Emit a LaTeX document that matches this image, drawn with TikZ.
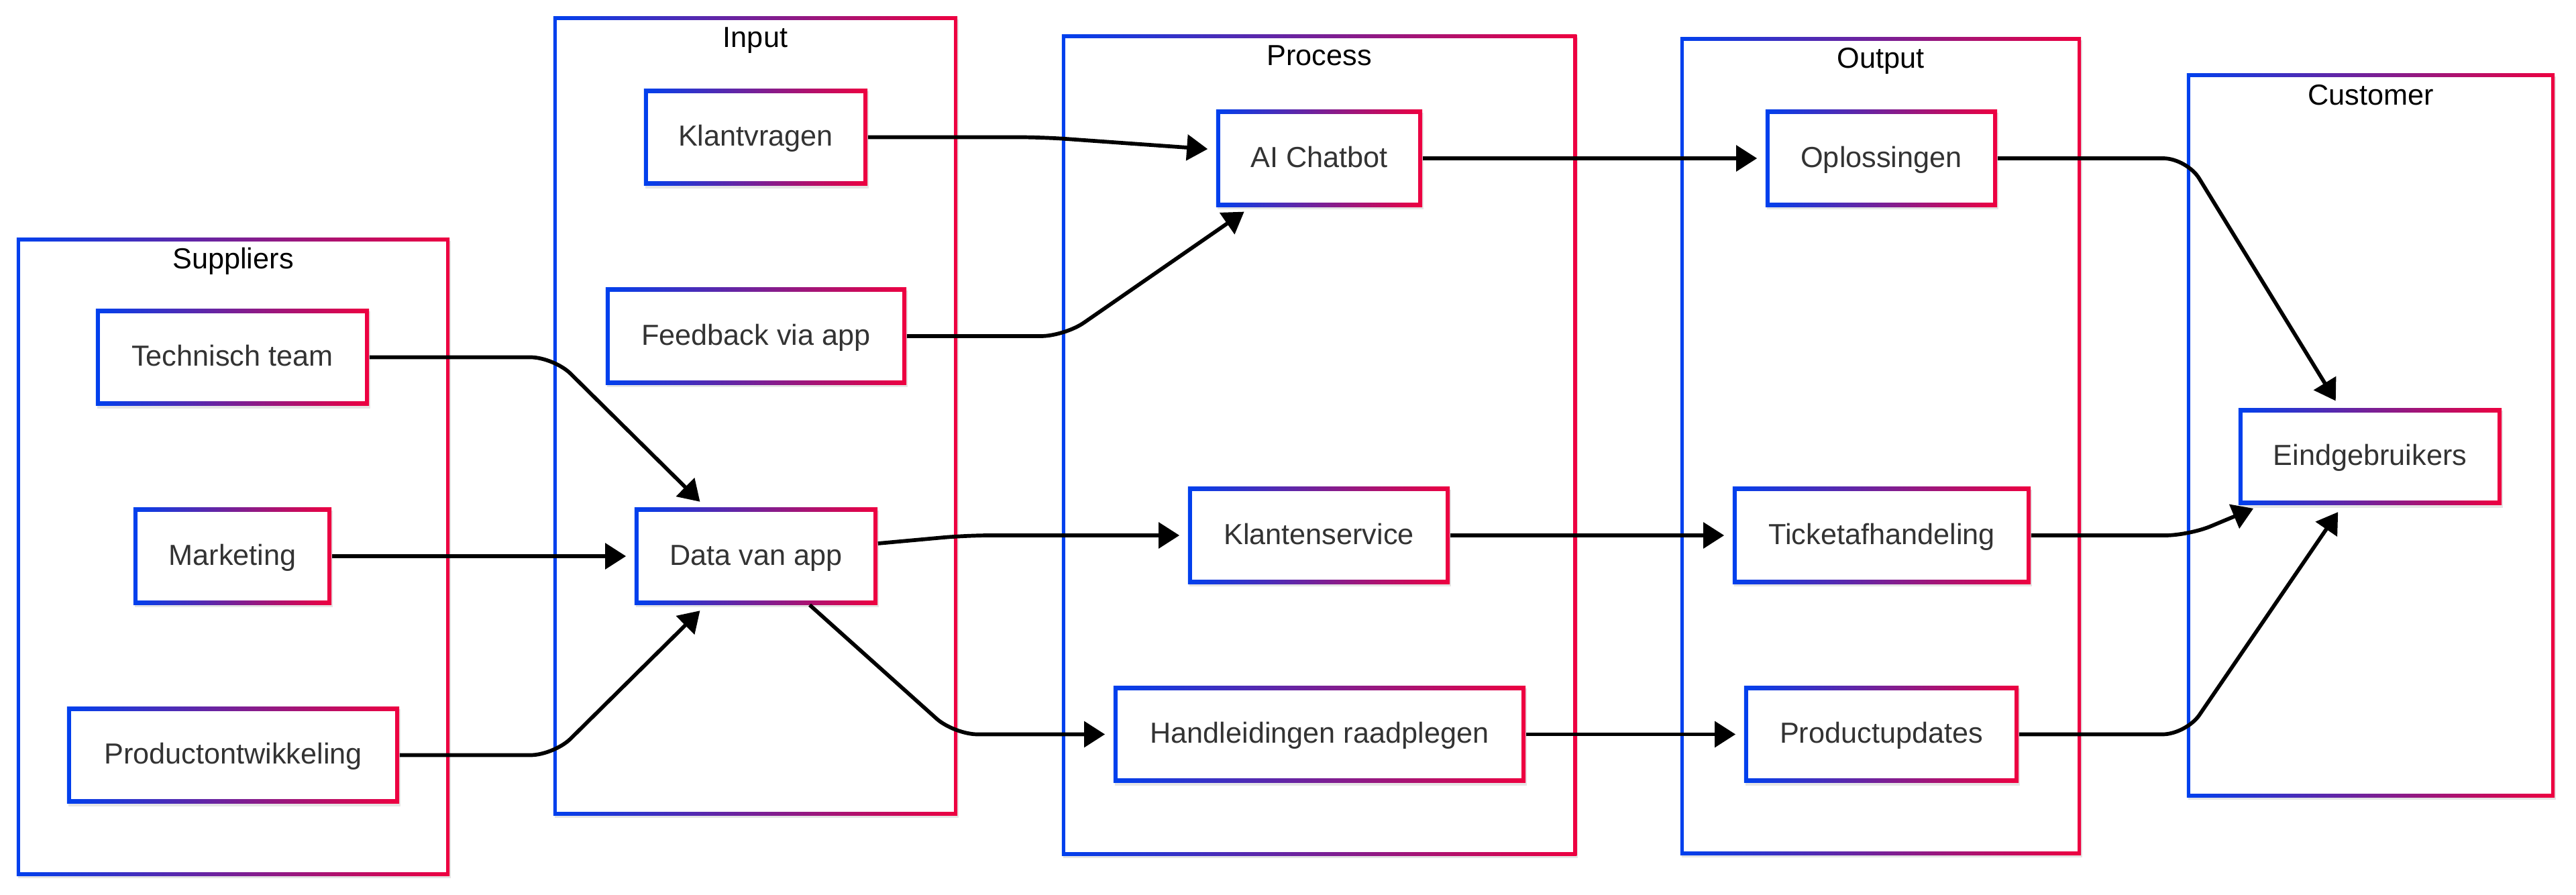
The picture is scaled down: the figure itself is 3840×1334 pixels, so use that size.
\documentclass[tikz,border=0pt]{standalone}
\usepackage{fontspec}
\setmainfont{Liberation Sans}
\usetikzlibrary{arrows.meta,calc,shadows}
\definecolor{gb}{RGB}{0,64,238}
\definecolor{gr}{RGB}{238,0,64}
\definecolor{tx}{RGB}{51,51,51}
\tikzset{
  gradbox/.style={rectangle, inner sep=0pt, fill=white,
    drop shadow={shadow xshift=0.02cm, shadow yshift=-0.04cm, opacity=0.10, fill=black},
    path picture={
      \shade[left color=gb, right color=gr] (path picture bounding box.south west) rectangle (path picture bounding box.north east);
      \fill[white] ([xshift=#1,yshift=#1]path picture bounding box.south west) rectangle ([xshift=-#1,yshift=-#1]path picture bounding box.north east);
    }},
  proc/.style={gradbox=0.065cm, text=tx, font=\fontsize{12.3}{14}\selectfont,
    text height=0.30cm, text depth=0.04cm, minimum height=1.44cm},
  group/.style={gradbox=0.055cm},
  gtitle/.style={anchor=base, text=black, font=\fontsize{12.3}{14}\selectfont, inner sep=0pt},
  flow/.style={line width=0.057cm, -{Triangle[length=0.31cm,width=0.38cm]},
    shorten >=0.12cm, rounded corners=0.35cm},
}
\begin{document}
\begin{tikzpicture}[x=0.01cm, y=-0.01cm]
\useasboundingbox[fill=white] (0,0) rectangle (3840,1334);
% groups
\node[group, minimum width=6.45cm, minimum height=9.50cm] (sup) at (347.5,830) {};
\node[group, minimum width=6.02cm, minimum height=11.90cm] (inp) at (1126,620) {};
\node[group, minimum width=7.67cm, minimum height=12.23cm] (pro) at (1966.5,663.5) {};
\node[group, minimum width=5.97cm, minimum height=12.18cm] (out) at (2803.5,665) {};
\node[group, minimum width=5.48cm, minimum height=10.78cm] (cus) at (3534,649) {};
\node[gtitle] (supt) at (347.5,401) {Suppliers};
\node[gtitle] (inpt) at (1126,71) {Input};
\node[gtitle] (prot) at (1966.5,98) {Process};
\node[gtitle] (outt) at (2803.5,102) {Output};
\node[gtitle] (cust) at (3534,157) {Customer};
% nodes
\node[proc, minimum width=4.07cm] (tt) at (346.5,532.5) {Technisch team};
\node[proc, minimum width=2.95cm] (mk) at (346.5,829) {Marketing};
\node[proc, minimum width=4.95cm] (pd) at (347.5,1125.5) {Productontwikkeling};
\node[proc, minimum width=3.33cm] (kv) at (1126.5,204.5) {Klantvragen};
\node[proc, minimum width=4.48cm] (fb) at (1127,501) {Feedback via app};
\node[proc, minimum width=3.62cm] (dv) at (1127,829) {Data van app};
\node[proc, minimum width=3.07cm] (ai) at (1966.5,236) {AI Chatbot};
\node[proc, minimum width=3.90cm] (ks) at (1966,798) {Klantenservice};
\node[proc, minimum width=6.14cm] (hl) at (1967,1094.5) {Handleidingen raadplegen};
\node[proc, minimum width=3.45cm] (op) at (2804.5,236) {Oplossingen};
\node[proc, minimum width=4.44cm] (ta) at (2805,798) {Ticketafhandeling};
\node[proc, minimum width=4.09cm] (pu) at (2804.5,1094.5) {Productupdates};
\node[proc, minimum width=3.92cm] (eg) at (3533,680.5) {Eindgebruikers};
% connectors
\draw[flow] (tt.east) -- ++(275,0) -- ($(dv.north)+(-75,0)$);
\draw[flow] (mk.east) -- (dv.west);
\draw[flow] (pd.east) -- ++(230,0) -- ($(dv.south)+(-75,0)$);
\draw[flow] (kv.east) -- ++(260,0) -- ($(ai.west)+(0,-13)$);
\draw[flow] (fb.east) -- ++(235,0) -- ($(ai.south)+(-102,0)$);
\draw[flow] ($(dv.east)+(0,-19)$) -- ($(ks.west)+(-330,0)$) -- (ks.west);
\draw[flow] ($(dv.south)+(80,0)$) -- ($(hl.west)+(-237,0)$) -- (hl.west);
\draw[flow] (ai.east) -- (op.west);
\draw[flow] (ks.east) -- (ta.west);
\draw[flow] (hl.east) -- (pu.west);
\draw[flow] (op.east) -- ++(282,0) -- ($(eg.north)+(-45,0)$);
\draw[flow] (ta.east) -- ++(235,0) -- ($(eg.south west)+(34,0)$);
\draw[flow] (pu.east) -- ++(249,0) -- ($(eg.south)+(-41,0)$);
\end{tikzpicture}
\end{document}
